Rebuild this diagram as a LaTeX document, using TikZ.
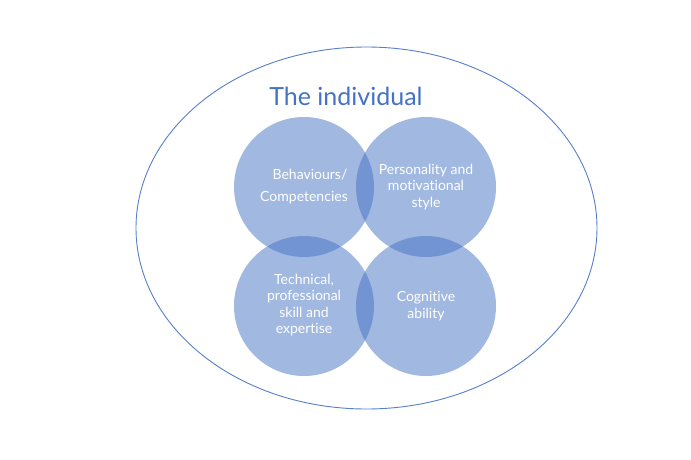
\documentclass[tikz,border=0pt]{standalone}
\usepackage{fontspec}
\setmainfont{Lato}[Ligatures={NoCommon}]
\usetikzlibrary{shapes.geometric}
\definecolor{accent}{HTML}{4472C4}
\begin{document}
\begin{tikzpicture}[x=1pt,y=-1pt,
  venn/.style={circle, minimum size=140pt, inner sep=0pt, fill=accent, fill opacity=0.5, text opacity=1},
  lbl/.style={text=white, align=center, font=\fontsize{14}{16.5}\selectfont}]
\useasboundingbox (0,0) rectangle (691,460);
\fill[white] (0,0) rectangle (691,460);
\node[ellipse, draw=accent!90, line width=0.9pt, minimum width=461pt, minimum height=362pt, inner sep=0pt] (outer) at (366.5,228) {};
\node[text=accent, font=\fontsize{25}{30}\selectfont, anchor=base] (title) at (346,106) {The individual};
\node[venn] (tl) at (304,187) {};
\node[venn] (tr) at (426,187) {};
\node[venn] (bl) at (304,306) {};
\node[venn] (br) at (426,306) {};
\node[lbl, font=\fontsize{14}{22}\selectfont] (tlt) at (304,187) {\hspace*{12pt}Behaviours/\\Competencies};
\node[lbl] (trt) at (426,187) {Personality and\\motivational\\style};
\node[lbl] (blt) at (304,305) {Technical,\\professional\\skill and\\expertise};
\node[lbl] (brt) at (426,306) {Cognitive\\ability};
\end{tikzpicture}
\end{document}
